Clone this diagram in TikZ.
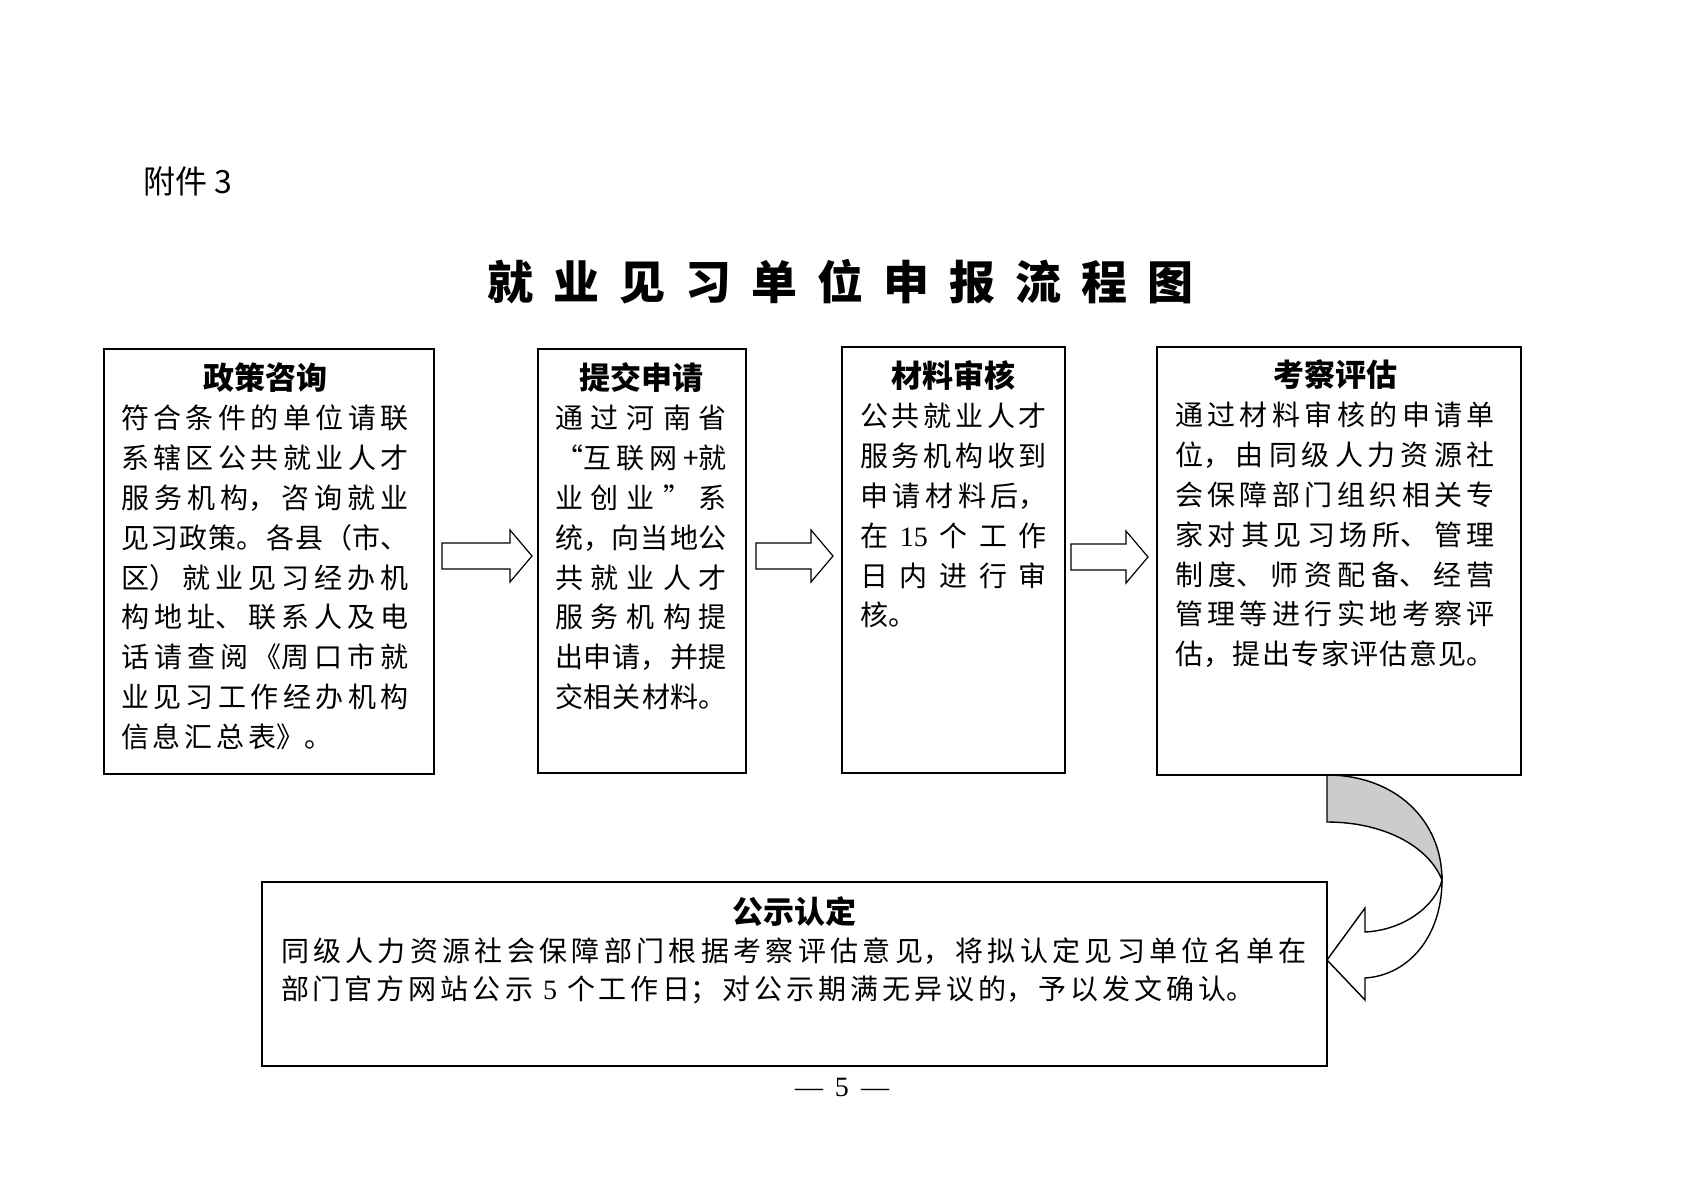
\documentclass[tikz,border=0pt]{standalone}
\usepackage{fontspec}
\setmainfont{Noto Sans CJK SC}
\newfontfamily\latin{Liberation Serif}
\tikzset{
  frame/.style={draw=black, line width=0.8pt, inner sep=0pt, fill=none},
  barrow/.style={draw=black, line width=0.6pt, fill=white, line join=miter},
  curv/.style={draw=black, line width=0.7pt},
  txt/.style={anchor=north west, inner sep=0pt, outer sep=0pt},
}
\newcommand\dg[1]{{\latin #1}}
\newcommand\cg{\hskip 2pt plus 1fil minus 2pt\relax}
\newcommand\boxpar[4]{%
  \parbox[t]{#1}{\fontsize{14}{#2}\selectfont
    \XeTeXlinebreaklocale "zh"\XeTeXlinebreakskip=2pt plus 1fil minus 2pt
    \parfillskip=0pt plus 1fill \parindent=0pt \linepenalty=1000
    \hbox to\linewidth{\hfil\rule{0pt}{20pt}\hbox{\XeTeXlinebreakskip=0pt\bfseries\fontsize{15.5}{#2}\selectfont #3}\hfil}%
    #4\par}}
\newcommand\blockarr[3]{%
  \draw[barrow] (#1,#3-13) -- (#2-22,#3-13) -- (#2-22,#3-26) -- (#2,#3)
    -- (#2-22,#3+26) -- (#2-22,#3+13) -- (#1,#3+13) -- cycle;}
\begin{document}
\begin{tikzpicture}[x=0.5pt, y=-0.5pt]
\useasboundingbox (0,0) rectangle (1683,1190);

% header and title
\node[anchor=base west, inner sep=0pt] (att) at (143,193) {\fontsize{16}{16}\selectfont 附件 3};
\node[anchor=base, inner sep=0pt] (title) at (840.5,299) {\fontsize{23}{23}\selectfont\bfseries
  就\hspace{10pt}业\hspace{10pt}见\hspace{10pt}习\hspace{10pt}单\hspace{10pt}位\hspace{10pt}申\hspace{10pt}报\hspace{10pt}流\hspace{10pt}程\hspace{10pt}图};

% block arrows
\blockarr{442}{532}{556}
\blockarr{756}{833}{556}
\blockarr{1071}{1148}{557}

% curved arrow from box 4 to box 5
\draw[curv, fill=black!20] (1327,775) .. controls (1395,775) and (1442,820) .. (1442,880)
  .. controls (1428,845) and (1382,822) .. (1327,822) -- cycle;
\draw[curv, fill=white, line join=miter] (1442,880) .. controls (1436,905) and (1405,930) .. (1365,932)
  -- (1365,908) -- (1327,960) -- (1365,1000) -- (1365,978)
  .. controls (1410,975) and (1442,935) .. (1442,880) -- cycle;

% boxes
\node[frame, minimum width=165pt, minimum height=212.5pt] (b1) at (269,561.5) {};
\node[frame, minimum width=104pt, minimum height=212pt] (b2) at (642,561) {};
\node[frame, minimum width=111.5pt, minimum height=213pt] (b3) at (953.5,560) {};
\node[frame, minimum width=182pt, minimum height=214pt] (b4) at (1339,561) {};
\node[frame, minimum width=532.5pt, minimum height=92pt] (b5) at (794.5,974) {};

% box texts
\node[txt] (t1) at (121,349) {\boxpar{144pt}{19.9pt}{政策咨询}{%
符合条件的单位请联\linebreak
系辖区公共就业人才\linebreak
服务机构，咨询就业\linebreak
见习政策。各县（市、\linebreak
区）就业见习经办机\linebreak
构地址、联系人及电\linebreak
话请查阅《周口市就\linebreak
业见习工作经办机构\linebreak
信息汇总表》。}};

\node[txt] (t2) at (555,349) {\boxpar{86pt}{19.9pt}{提交申请}{%
通过河南省\linebreak
“互联网+就\linebreak
业创业\cg”\cg 系\linebreak
统，向当地公\linebreak
共就业人才\linebreak
服务机构提\linebreak
出申请，并提\linebreak
交相关材料。}};

\node[txt] (t3) at (860,347) {\boxpar{93.5pt}{19.9pt}{材料审核}{%
公共就业人才\linebreak
服务机构收到\linebreak
申请材料后，\linebreak
在\cg\dg{15}\cg 个工作\linebreak
日内进行审\linebreak
核。}};

\node[txt] (t4) at (1175,346) {\boxpar{160pt}{19.9pt}{考察评估}{%
通过材料审核的申请单\linebreak
位，由同级人力资源社\linebreak
会保障部门组织相关专\linebreak
家对其见习场所、管理\linebreak
制度、师资配备、经营\linebreak
管理等进行实地考察评\linebreak
估，提出专家评估意见。}};

\node[txt] (t5) at (281,883) {\boxpar{513pt}{19pt}{公示认定}{%
同级人力资源社会保障部门根据考察评估意见，将拟认定见习单位名单在\linebreak
部门官方网站公示\hspace{5pt}\dg{5}\hspace{5pt}个工作日；对公示期满无异议的，予以发文确认。}};

% page number
\node[anchor=base, inner sep=0pt] (pg) at (842,1096) {\latin\fontsize{14}{14}\selectfont —\hspace{6pt}5\hspace{6pt}—};
\end{tikzpicture}
\end{document}
